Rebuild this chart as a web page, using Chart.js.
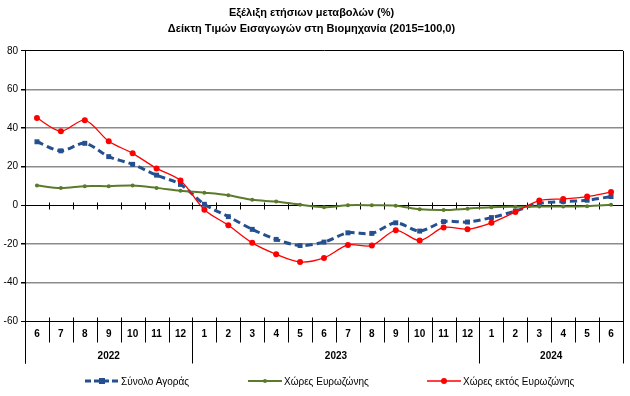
<!DOCTYPE html>
<html>
<head>
<meta charset="utf-8">
<script src="https://cdn.jsdelivr.net/npm/chart.js@4.4.1/dist/chart.umd.min.js"></script>
<style>
    body { margin: 0; background: #fff; font-family: 'Liberation Sans', Arial, sans-serif; }
    #wrap { position: relative; width: 630px; height: 396px; }
    #legend { position: absolute; left: 0; top: 373px; width: 630px; height: 16px; font-size: 10px; color: #000; }
    .item { position: absolute; top: 0; display: flex; align-items: center; height: 16px; }
    .item svg { margin-right: 2px; }
</style>
</head>
<body>
<div id="wrap">
    <canvas id="chart" width="630" height="396"></canvas>
    <div id="legend"></div>
</div>
<script>
// Data
const months = ['6', '7', '8', '9', '10', '11', '12',
    '1', '2', '3', '4', '5', '6', '7', '8', '9', '10', '11', '12',
    '1', '2', '3', '4', '5', '6'];
const years = [
    { label: '2022', from: 0, to: 6 },
    { label: '2023', from: 7, to: 18 },
    { label: '2024', from: 19, to: 24 }
];
const totalMarket = [32.9, 28.2, 32.1, 25.2, 21.2, 15.6, 10.8,
    0.5, -5.9, -12.5, -17.7, -20.9, -19.1, -14.3, -14.6, -9.1, -13.4, -8.5, -8.7,
    -6.4, -3.0, 1.0, 1.9, 2.6, 4.5];
const euroArea = [10.2, 8.9, 9.9, 9.9, 10.2, 9.0, 7.5,
    6.5, 5.2, 2.8, 1.9, 0.3, -1.0, 0.0, 0.0, -0.2, -2.1, -2.5, -1.8,
    -1.0, -0.8, -0.7, -0.7, -0.5, 0.2];
const nonEuroArea = [45.2, 38.4, 44.1, 33.2, 26.9, 19.1, 12.8,
    -2.3, -10.4, -19.5, -25.4, -29.4, -27.3, -20.6, -20.9, -13.0, -18.3, -11.5, -12.4,
    -9.1, -3.5, 2.4, 3.3, 4.5, 6.8];
const yTicks = [-60, -40, -20, 0, 20, 40, 60, 80];

const seriesNames = ['Σύνολο Αγοράς', 'Χώρες Ευρωζώνης', 'Χώρες εκτός Ευρωζώνης'];
const titleLines = ['Εξέλιξη ετήσιων μεταβολών (%)', 'Δείκτη Τιμών Εισαγωγών στη Βιομηχανία (2015=100,0)'];

const FONT = "'Liberation Sans', Arial, sans-serif";
const BLUE = '#24508f';
const GREEN = '#5b7a2c';
const RED = '#ff0000';

// draws the frame, zero line, category separators and year labels
const framePlugin = {
    id: 'frame',
    beforeDatasetsDraw(chart) {
        const ctx = chart.ctx;
        const area = chart.chartArea;
        const x = chart.scales.x;
        const y = chart.scales.y;
        const half = (x.getPixelForValue(1) - x.getPixelForValue(0)) / 2;
        const zero = Math.round(y.getPixelForValue(0)) + 0.5;
        const bottom = Math.round(area.bottom) + 0.5;

        ctx.save();
        ctx.strokeStyle = '#000';
        ctx.lineWidth = 1;

        // zero line with ticks
        ctx.beginPath();
        ctx.moveTo(area.left, zero);
        ctx.lineTo(area.right, zero);
        for (let i = 0; i < months.length; i++) {
            const bx = Math.round(x.getPixelForValue(i) + half) + 0.5;
            ctx.moveTo(bx, zero - 3);
            ctx.lineTo(bx, zero + 4);
        }
        ctx.stroke();

        // right border and left axis extension
        ctx.beginPath();
        ctx.moveTo(Math.round(area.right) + 0.5, area.top);
        ctx.lineTo(Math.round(area.right) + 0.5, bottom + 42);
        ctx.moveTo(Math.round(area.left) + 0.5, bottom);
        ctx.lineTo(Math.round(area.left) + 0.5, bottom + 42);
        ctx.stroke();

        // month separators
        ctx.beginPath();
        for (let i = 0; i < months.length - 1; i++) {
            const bx = Math.round(x.getPixelForValue(i) + half) + 0.5;
            ctx.moveTo(bx, bottom - 4);
            ctx.lineTo(bx, bottom + 21);
        }
        ctx.stroke();

        // year separators and labels
        ctx.fillStyle = '#000';
        ctx.font = 'bold 10px ' + FONT;
        ctx.textAlign = 'center';
        ctx.textBaseline = 'middle';
        years.forEach(yr => {
            const left = x.getPixelForValue(yr.from) - half;
            const right = x.getPixelForValue(yr.to) + half;
            ctx.beginPath();
            ctx.moveTo(Math.round(left) + 0.5, bottom);
            ctx.lineTo(Math.round(left) + 0.5, bottom + 42);
            ctx.stroke();
            ctx.fillText(yr.label, (left + right) / 2, bottom + 35);
        });
        ctx.restore();
    }
};

new Chart(document.getElementById('chart'), {
    type: 'line',
    data: {
        labels: months,
        datasets: [{
            label: seriesNames[0],
            data: totalMarket,
            borderColor: BLUE,
            backgroundColor: BLUE,
            borderWidth: 3,
            borderDash: [7, 4],
            pointStyle: 'rect',
            pointRadius: 3.5,
            pointBorderWidth: 0,
            tension: 0.3,
            order: 2
        }, {
            label: seriesNames[1],
            data: euroArea,
            borderColor: GREEN,
            backgroundColor: GREEN,
            borderWidth: 2,
            pointRadius: 2,
            pointBorderWidth: 0,
            tension: 0.3,
            order: 1
        }, {
            label: seriesNames[2],
            data: nonEuroArea,
            borderColor: RED,
            backgroundColor: RED,
            borderWidth: 1.3,
            pointRadius: 3,
            pointBorderWidth: 0,
            tension: 0.3,
            order: 0
        }]
    },
    options: {
        responsive: false,
        animation: false,
        layout: { padding: { left: 0, right: 7, top: 0, bottom: 19 } },
        plugins: {
            legend: { display: false },
            tooltip: { enabled: false },
            title: {
                display: true,
                text: titleLines,
                color: '#000',
                font: { family: FONT, size: 11, weight: 'bold', lineHeight: 1.45 },
                padding: { top: 5, bottom: 14 }
            }
        },
        scales: {
            x: {
                offset: true,
                grid: { display: false, drawTicks: false },
                border: { display: true, color: '#000', width: 1 },
                ticks: {
                    color: '#000',
                    font: { family: FONT, size: 10, weight: 'bold' },
                    padding: 7,
                    maxRotation: 0,
                    autoSkip: false
                },
                afterFit(scale) { scale.height = 56; }
            },
            y: {
                min: -60,
                max: 80,
                afterBuildTicks(scale) { scale.ticks = yTicks.map(v => ({ value: v })); },
                grid: {
                    color: ctx => (ctx.tick && (ctx.tick.value === 80 || ctx.tick.value === -60 || ctx.tick.value === 0)) ? '#000' : '#8c8c8c',
                    lineWidth: ctx => (ctx.tick && (ctx.tick.value === 80 || ctx.tick.value === -60 || ctx.tick.value === 0)) ? 1 : 1.5,
                    tickColor: '#000',
                    tickLength: 4
                },
                border: { display: true, color: '#000', width: 1 },
                ticks: {
                    color: '#000',
                    font: { family: FONT, size: 10 },
                    padding: 3
                },
                afterFit(scale) { scale.width = 25; }
            }
        }
    },
    plugins: [framePlugin]
});

// legend drawn as html, marker styles follow the datasets
function markerSvg(color, dash, width, shape, size) {
    let mark = '';
    if (shape === 'rect') {
        mark = `<rect x="${17 - size}" y="${5 - size}" width="${size * 2}" height="${size * 2}" fill="${color}"/>`;
    } else {
        mark = `<circle cx="17" cy="5" r="${size}" fill="${color}"/>`;
    }
    return `<svg width="34" height="10"><line x1="0" y1="5" x2="34" y2="5" stroke="${color}" stroke-width="${width}" ${dash ? 'stroke-dasharray="' + dash + '"' : ''}/>${mark}</svg>`;
}

const legendItems = [
    { left: 85, svg: markerSvg(BLUE, '6,3', 3, 'rect', 3) },
    { left: 248, svg: markerSvg(GREEN, '', 2, 'circle', 2) },
    { left: 427, svg: markerSvg(RED, '', 1.3, 'circle', 3) }
];
const legend = document.getElementById('legend');
legendItems.forEach((item, i) => {
    const el = document.createElement('div');
    el.className = 'item';
    el.style.left = item.left + 'px';
    el.innerHTML = item.svg + '<span>' + seriesNames[i] + '</span>';
    legend.appendChild(el);
});
</script>
</body>
</html>
